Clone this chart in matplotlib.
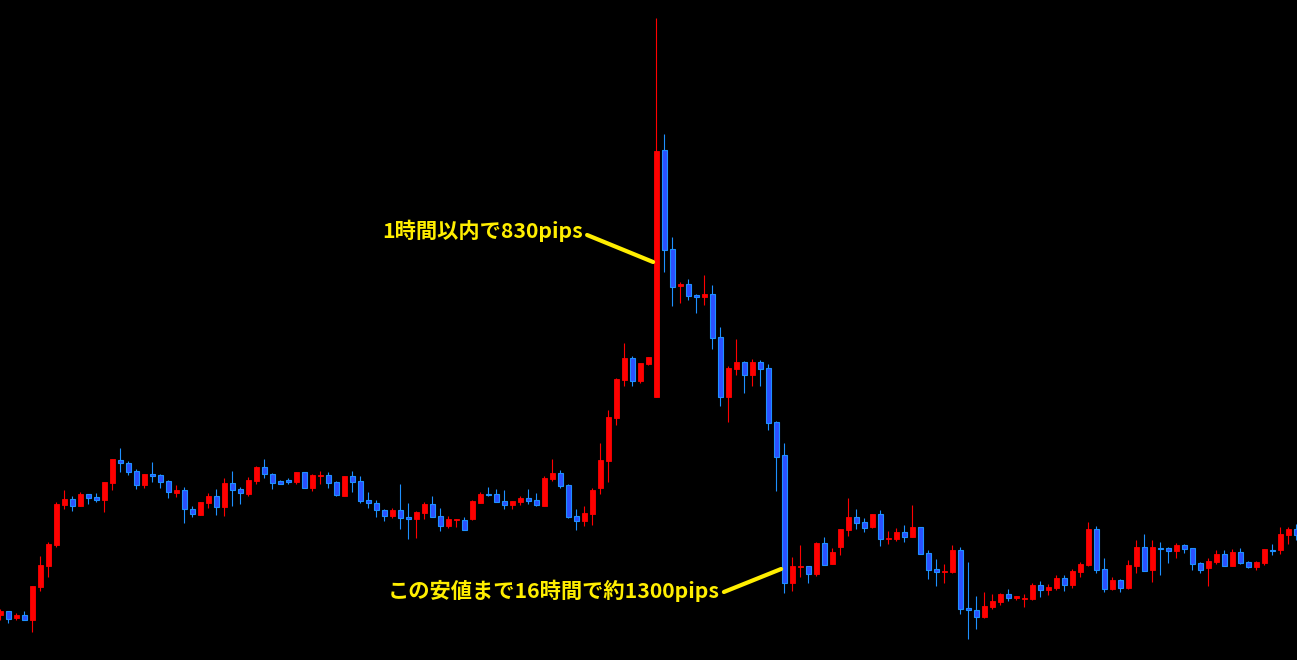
import matplotlib
matplotlib.use("Agg")
import matplotlib.pyplot as plt
from matplotlib.patches import Rectangle

# ─── 設定 ─────────────────────────────────────
OUT_PATH = "out.png"
UP_COLOR = "#FF0000"
DOWN_FILL = "#2B50FF"
DOWN_EDGE = "#1E90FF"
NOTE_COLOR = "#FFEE00"

plt.rcParams['font.family'] = ['Noto Sans CJK JP', 'DejaVu Sans']

# ─── データ (チャート上の値、下端からの高さ) ─────────────
opens = [45, 49, 42, 45, 40, 73, 94, 115, 155, 161, 154, 166, 163, 160, 177, 200, 197, 189, 175, 186,
         185, 179, 167, 170, 151, 145, 157, 164, 153, 177, 171, 166, 179, 193, 186, 179, 180, 178, 188, 172,
         184, 185, 178, 164, 184, 179, 160, 157, 150, 144, 150, 143, 141, 147, 156, 144, 134, 140, 140, 141,
         157, 166, 166, 159, 155, 158, 162, 160, 154, 181, 187, 175, 144, 139, 146, 172, 199, 242, 280, 302,
         279, 296, 263, 510, 411, 374, 376, 365, 363, 366, 323, 263, 291, 298, 285, 298, 292, 238, 205, 77,
         93, 94, 86, 117, 96, 113, 130, 143, 138, 133, 146, 121, 121, 128, 123, 133, 107, 91, 88, 88,
         110, 52, 50, 43, 53, 58, 66, 62, 61, 61, 75, 70, 72, 82, 75, 88, 95, 131, 91, 71,
         80, 72, 94, 113, 90, 112, 112, 109, 115, 112, 97, 92, 98, 106, 94, 108, 98, 93, 97, 110,
         110, 125, 131]
highs = [51, 49, 47, 49, 74, 104, 118, 158, 170, 164, 168, 166, 167, 178, 201, 212, 199, 191, 186, 198,
         186, 180, 175, 173, 154, 158, 167, 171, 182, 189, 173, 183, 194, 201, 187, 180, 182, 188, 188, 186,
         189, 188, 179, 184, 189, 184, 168, 160, 151, 152, 176, 157, 149, 158, 164, 152, 144, 141, 143, 160,
         168, 173, 171, 170, 159, 164, 171, 167, 184, 201, 190, 176, 151, 154, 172, 217, 250, 282, 317, 304,
         297, 303, 642, 526, 423, 378, 381, 366, 385, 375, 333, 294, 321, 299, 301, 300, 296, 239, 217, 103,
         115, 94, 118, 123, 112, 131, 162, 151, 142, 146, 150, 129, 132, 135, 155, 133, 110, 101, 96, 115,
         113, 98, 64, 68, 66, 67, 71, 64, 66, 77, 79, 76, 85, 85, 91, 98, 138, 134, 102, 83,
         81, 100, 120, 126, 120, 118, 113, 117, 116, 112, 98, 102, 110, 110, 111, 112, 99, 99, 111, 116,
         133, 133, 136]
lows = [40, 37, 40, 40, 28, 69, 83, 113, 151, 149, 154, 156, 158, 148, 170, 188, 185, 171, 172, 178,
        172, 162, 163, 137, 143, 145, 152, 145, 144, 154, 156, 164, 176, 182, 171, 176, 176, 176, 172, 169,
        176, 172, 164, 164, 168, 157, 152, 143, 139, 142, 131, 121, 122, 141, 143, 129, 132, 133, 130, 140,
        157, 164, 158, 151, 151, 155, 156, 154, 154, 179, 172, 142, 130, 134, 135, 166, 178, 235, 274, 274,
        277, 295, 263, 388, 354, 357, 360, 347, 355, 311, 254, 238, 285, 267, 274, 274, 230, 169, 67, 69,
        83, 77, 84, 95, 96, 105, 124, 131, 128, 132, 114, 116, 119, 118, 123, 106, 81, 74, 77, 87,
        46, 21, 31, 42, 51, 55, 59, 60, 53, 60, 63, 65, 70, 69, 72, 83, 94, 87, 68, 70,
        68, 71, 87, 89, 78, 85, 97, 102, 107, 90, 87, 74, 96, 94, 94, 96, 92, 90, 95, 105,
        106, 116, 120]
closes = [49, 41, 45, 40, 74, 95, 116, 156, 161, 154, 166, 162, 160, 178, 201, 197, 188, 175, 186, 184,
          178, 168, 170, 151, 146, 158, 164, 153, 177, 170, 167, 180, 193, 186, 177, 176, 178, 188, 172, 185,
          185, 177, 165, 184, 178, 159, 157, 150, 144, 150, 142, 141, 148, 156, 143, 134, 141, 141, 130, 159,
          166, 165, 158, 155, 159, 162, 159, 155, 182, 187, 174, 143, 139, 147, 170, 200, 243, 281, 302, 279,
          297, 303, 509, 410, 373, 376, 364, 363, 366, 322, 263, 292, 298, 285, 298, 291, 237, 203, 77, 94,
          94, 86, 117, 95, 108, 131, 143, 137, 132, 146, 121, 122, 128, 123, 133, 106, 90, 88, 89, 110,
          51, 50, 43, 54, 59, 66, 62, 64, 62, 75, 70, 73, 82, 75, 89, 96, 131, 90, 71, 80,
          72, 95, 113, 89, 113, 111, 109, 115, 111, 96, 90, 99, 106, 94, 108, 97, 93, 98, 111, 109,
          126, 131, 125]

note1 = "1時間以内で830pips"
note2 = "この安値まで16時間で約1300pips"


def draw_candles(ax):
    w = 0.6
    for i, (o, h, l, c) in enumerate(zip(opens, highs, lows, closes)):
        up = c >= o
        wick_col = UP_COLOR if up else DOWN_EDGE
        ax.vlines(i, l, h, color=wick_col, lw=0.8, zorder=2)
        bottom = min(o, c)
        height = max(abs(c - o), 1.2)
        if up:
            rect = Rectangle((i - w / 2, bottom), w, height, facecolor=UP_COLOR,
                             edgecolor=UP_COLOR, lw=0.6, zorder=3)
        else:
            rect = Rectangle((i - w / 2, bottom), w, height, facecolor=DOWN_FILL,
                             edgecolor=DOWN_EDGE, lw=0.8, zorder=3)
        ax.add_patch(rect)


def main():
    fig = plt.figure(figsize=(12.97, 6.60), dpi=100, facecolor="black")
    ax = fig.add_axes([0, 0, 1, 1])
    ax.set_facecolor("black")
    ax.set_axis_off()

    draw_candles(ax)

    # 注釈 1
    ax.plot([73.35, 81.6], [425, 398], color=NOTE_COLOR, lw=3, solid_capstyle="round", zorder=4)
    ax.text(72.85, 429, note1, color=NOTE_COLOR, fontsize=15.3, fontweight="bold",
            ha="right", va="center", zorder=5)
    # 注釈 2
    ax.plot([90.45, 97.6], [68, 91], color=NOTE_COLOR, lw=3, solid_capstyle="round", zorder=4)
    ax.text(89.95, 69, note2, color=NOTE_COLOR, fontsize=15.3, fontweight="bold",
            ha="right", va="center", zorder=5)

    ax.set_xlim(-0.0375, 162.0875)
    ax.set_ylim(0, 660)

    fig.savefig(OUT_PATH, dpi=100, facecolor="black")
    plt.close(fig)


if __name__ == '__main__':
    main()
